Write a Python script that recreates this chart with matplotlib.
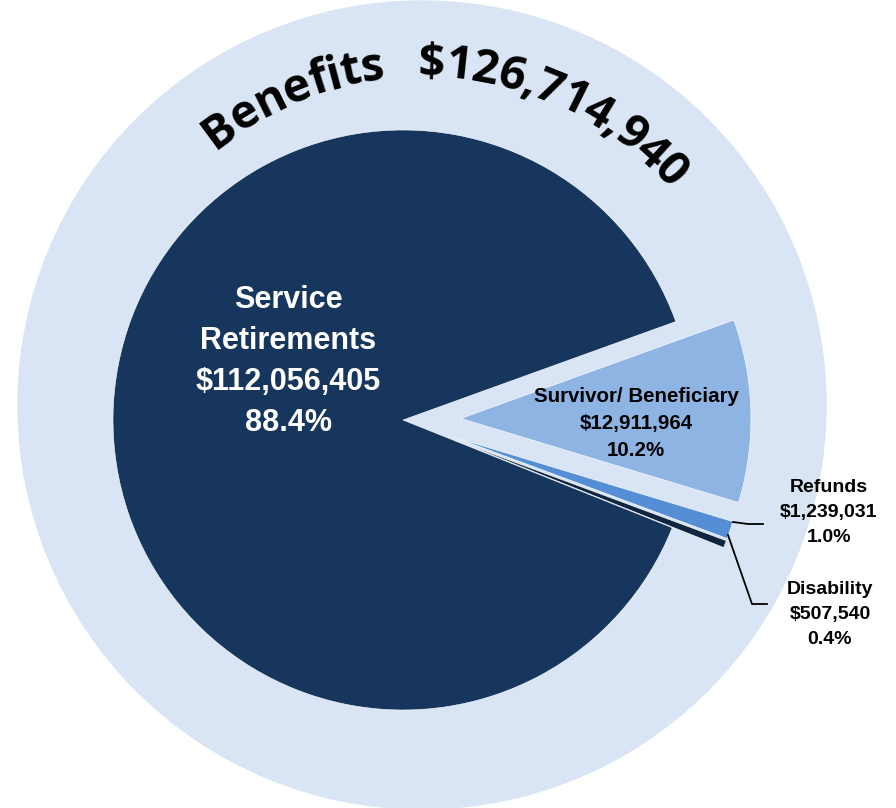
#!/usr/bin/env python3
"""Benefits breakdown pie with a curved title on the outer ring."""
import math
import matplotlib
matplotlib.use("Agg")
import matplotlib.pyplot as plt
from matplotlib.patches import Circle
from matplotlib.font_manager import FontProperties
from matplotlib.textpath import text_to_path

# -----------------------------
# Data
# -----------------------------
categories = ["Service\nRetirements", "Survivor/ Beneficiary", "Refunds", "Disability"]
amounts = [112056405, 12911964, 1239031, 507540]
amount_labels = ["$112,056,405", "$12,911,964", "$1,239,031", "$507,540"]
pct_labels = ["88.4%", "10.2%", "1.0%", "0.4%"]
title_word = "Benefits"
title_total = "$126,714,940"

colors = ["#17365D", "#8EB4E3", "#558ED5", "#10253F"]
ring_color = "#D9E5F4"

W, H = 896, 808


def Y(y):
    # image row -> data y
    return H - y


fig = plt.figure(figsize=(W / 100, H / 100), dpi=100)
ax = fig.add_axes([0, 0, 1, 1])

# outer light ring
ring_c = (422, Y(405))
ax.add_patch(Circle(ring_c, 404, color=ring_color, zorder=0))

# pie (explode is in data units here since radius is in pixels)
R = 290
ax.pie(amounts, colors=colors, startangle=-21.8, counterclock=False,
       explode=[0, 0.2 * R, 0.19 * R, 0.19 * R], radius=R, center=(403, Y(420)),
       wedgeprops=dict(edgecolor="white", linewidth=0.4), frame=True)
ax.set_xlim(0, W)
ax.set_ylim(0, H)
ax.set_aspect("equal")
ax.axis("off")

# -----------------------------
# Labels
# -----------------------------
lab = dict(family=["Liberation Sans", "DejaVu Sans"], fontweight="bold",
           ha="center", va="center")

svc_lines = ["Service", "Retirements", amount_labels[0], pct_labels[0]]
for i, s in enumerate(svc_lines):
    ax.text(288, Y(300 + 41 * i), s, color="white", fontsize=22, **lab)

surv_lines = [categories[1], amount_labels[1], pct_labels[1]]
for i, s in enumerate(surv_lines):
    ax.text(636, Y(396 + 27 * i), s, color="black", fontsize=14.8, **lab)

ref_lines = [categories[2], amount_labels[2], pct_labels[2]]
for i, s in enumerate(ref_lines):
    ax.text(829, Y(488 + 25 * i), s, color="black", fontsize=14, **lab)

dis_lines = [categories[3], amount_labels[3], pct_labels[3]]
for i, s in enumerate(dis_lines):
    ax.text(830, Y(590 + 24.5 * i), s, color="black", fontsize=14, **lab)

# leader lines
ax.plot([733, 748, 763], [Y(522), Y(524), Y(524)], color="black", lw=1.3)
ax.plot([728, 752, 767], [Y(535), Y(604), Y(604)], color="black", lw=1.3)

# -----------------------------
# Curved title
# -----------------------------
fp = FontProperties(family=["Open Sans", "DejaVu Sans"], weight="bold", size=33.5)
px_per_pt = 100 / 72
tracking = 0.97  # slightly tighter than char-by-char placement gives


def width_px(s):
    if not s:
        return 0.0
    w, _, _ = text_to_path.get_text_width_height_descent(s, fp, ismath=False)
    return w * px_per_pt


def curved(s, start_deg, r):
    for i, ch in enumerate(s):
        d = (width_px(s[:i + 1]) - width_px(ch) / 2) * tracking
        th = math.radians(start_deg) - d / r
        x = ring_c[0] + r * math.cos(th)
        y = ring_c[1] + r * math.sin(th)
        ax.text(x, y, ch, fontproperties=fp, ha="center", va="baseline",
                rotation=math.degrees(th) - 90, rotation_mode="anchor",
                color="black")


curved(title_word, 129.0, 328)
curved(title_total, 90.6, 328)

fig.savefig("out.png", dpi=100)
